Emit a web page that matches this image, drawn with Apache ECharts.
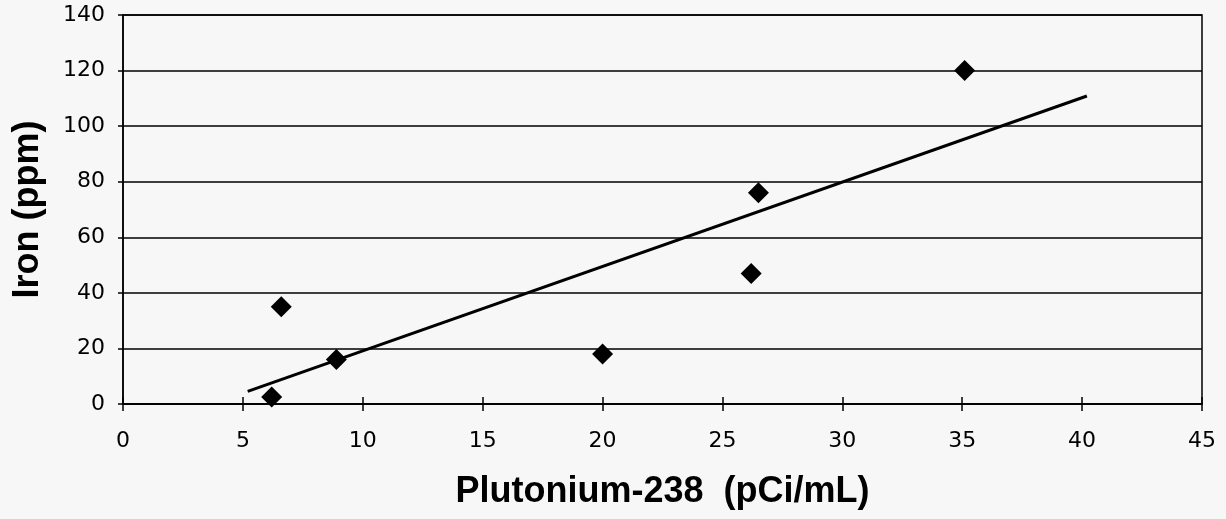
<!DOCTYPE html>
<html>
<head>
<meta charset="utf-8">
<script src="https://cdn.jsdelivr.net/npm/echarts@6/dist/echarts.min.js"></script>
<style>
  html, body { margin: 0; padding: 0; background: #f7f7f7; }
  #chart { width: 1226px; height: 519px; }
</style>
</head>
<body>
<div id="chart"></div>
<script>
// Measured samples: plutonium-238 activity vs iron concentration
const plutonium = [6.2, 6.6, 8.9, 20.0, 26.2, 26.5, 35.1];
const iron = [2.5, 35, 16, 18, 47, 76, 120];
// x-range covered by the fitted trend line
const trendRange = [5.2, 40.2];

// Least-squares linear fit through the samples
function linearFit(xs, ys) {
  const n = xs.length;
  const mx = xs.reduce((a, b) => a + b, 0) / n;
  const my = ys.reduce((a, b) => a + b, 0) / n;
  let sxy = 0, sxx = 0;
  for (let i = 0; i < n; i++) {
    sxy += (xs[i] - mx) * (ys[i] - my);
    sxx += (xs[i] - mx) * (xs[i] - mx);
  }
  const slope = sxy / sxx;
  return { slope, intercept: my - slope * mx };
}
const fit = linearFit(plutonium, iron);
const trendPoints = trendRange.map(x => [x, fit.slope * x + fit.intercept]);
const points = plutonium.map((x, i) => [x, iron[i]]);

const tickFont = { fontFamily: 'DejaVu Sans', fontSize: 22, color: '#000' };
const titleFont = { fontFamily: 'Liberation Sans', fontWeight: 'bold', fontSize: 36, color: '#000' };

const chart = echarts.init(document.getElementById('chart'), null, { renderer: 'canvas' });
chart.setOption({
  backgroundColor: '#f7f7f7',
  animation: false,
  grid: {
    left: 123, right: 24, top: 15, bottom: 115,
    show: true, borderColor: '#000', borderWidth: 1.5, backgroundColor: 'transparent'
  },
  xAxis: [{
    type: 'value', min: 0, max: 45, interval: 5,
    name: 'Plutonium-238  (pCi/mL)', nameLocation: 'middle', nameGap: 70,
    nameTextStyle: titleFont,
    axisLine: { show: true, lineStyle: { color: '#000', width: 1.5 } },
    axisTick: { show: true, length: 7, lineStyle: { color: '#000', width: 1.5 } },
    axisLabel: Object.assign({ margin: 26 }, tickFont),
    splitLine: { show: false }
  }, {
    // inner half of the crossing ticks on the x axis
    type: 'value', min: 0, max: 45, interval: 5, position: 'bottom',
    axisLine: { show: false },
    axisTick: { show: true, inside: true, length: 7, lineStyle: { color: '#000', width: 1.5 } },
    axisLabel: { show: false },
    splitLine: { show: false }
  }],
  yAxis: {
    type: 'value', min: 0, max: 140, interval: 20,
    name: 'Iron (ppm)', nameLocation: 'middle', nameGap: 77,
    nameTextStyle: titleFont,
    axisLine: { show: true, lineStyle: { color: '#000', width: 1.5 } },
    axisTick: { show: true, length: 5, lineStyle: { color: '#000', width: 1.5 } },
    axisLabel: Object.assign({ margin: 18 }, tickFont),
    splitLine: { show: true, lineStyle: { color: '#000', width: 1.6 } }
  },
  series: [{
    type: 'scatter',
    data: points,
    symbol: 'diamond',
    symbolSize: [21, 21],
    itemStyle: { color: '#000', opacity: 1 },
    z: 5
  }, {
    type: 'line',
    data: trendPoints,
    symbol: 'none',
    lineStyle: { color: '#000', width: 3 },
    z: 4
  }]
});
</script>
</body>
</html>
